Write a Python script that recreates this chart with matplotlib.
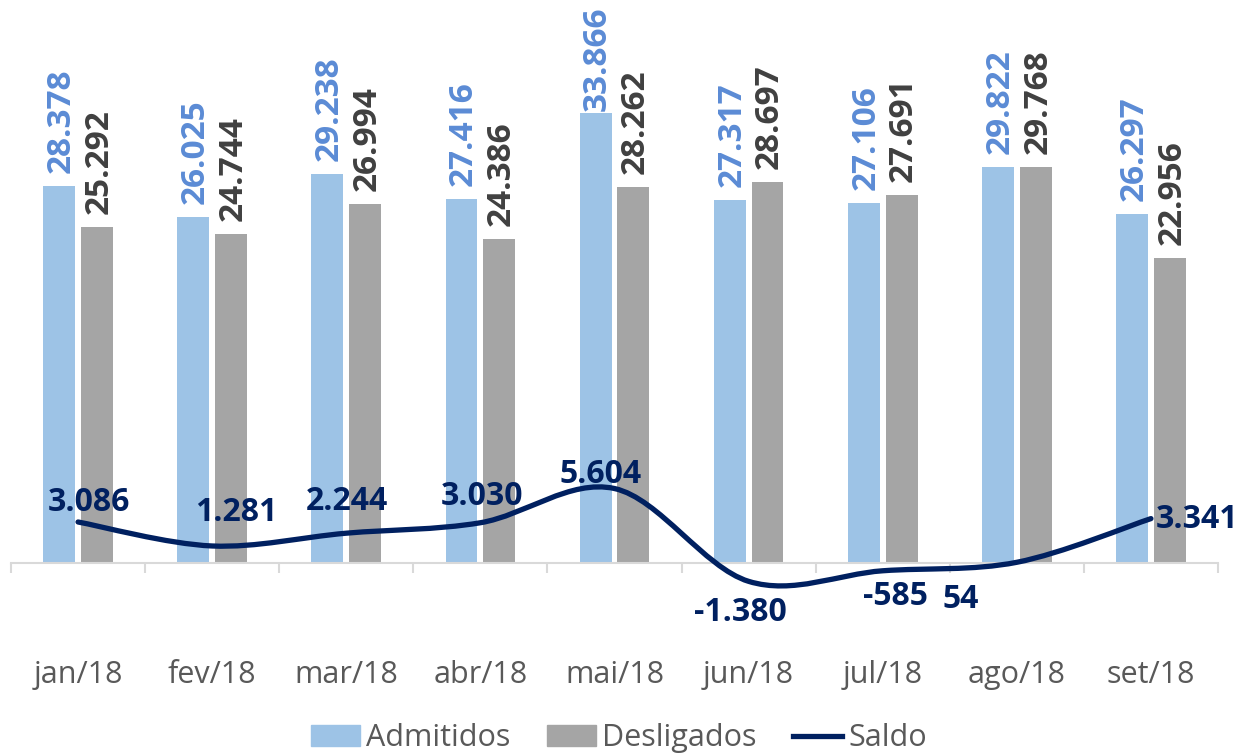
import numpy as np
import matplotlib
matplotlib.use("Agg")
import matplotlib.pyplot as plt
from matplotlib.path import Path
from matplotlib.patches import PathPatch
from matplotlib.lines import Line2D
from matplotlib.patches import Patch

# dados
meses = ["jan/18", "fev/18", "mar/18", "abr/18", "mai/18",
         "jun/18", "jul/18", "ago/18", "set/18"]
admitidos = [28378, 26025, 29238, 27416, 33866, 27317, 27106, 29822, 26297]
desligados = [25292, 24744, 26994, 24386, 28262, 28697, 27691, 29768, 22956]
saldo = [3086, 1281, 2244, 3030, 5604, -1380, -585, 54, 3341]

# deslocamento (px) dos rotulos do saldo
saldo_off = [(11, 19), (24, 33), (1, 32), (2, 26), (-14, 14),
             (-8, -31), (13, -26), (-56, -37), (46, -1)]

COR_ADM = "#9DC3E6"
COR_DES = "#A5A5A5"
COR_SAL = "#002060"
COR_TXT = "#595959"


def fmt(v):
    return f"{v:,}".replace(",", ".")


plt.rcParams["font.family"] = ["Open Sans", "DejaVu Sans"]

W, H = 1245, 755
fig = plt.figure(figsize=(W / 100, H / 100), dpi=100)
# eixo posicionado em pixels
ax = fig.add_axes([11 / W, (H - 640) / H, 1207 / W, 640 / H])

x = np.arange(len(meses))
bw = 0.238
off = 0.141
ax.bar(x - off, admitidos, bw, color=COR_ADM, zorder=2)
ax.bar(x + off, desligados, bw, color=COR_DES, zorder=2)

for i in range(len(meses)):
    # o rotulo de mai/18 fica colado na barra (sem espaco no topo)
    gap = 2 if admitidos[i] == max(admitidos) else 13
    ax.annotate(fmt(admitidos[i]), (x[i] - off, admitidos[i]),
                xytext=(2, gap), textcoords="offset pixels",
                rotation=90, ha="center", va="bottom",
                fontsize=24, fontweight="bold", color="#5B8BD5")
    ax.annotate(fmt(desligados[i]), (x[i] + off, desligados[i]),
                xytext=(2, 13), textcoords="offset pixels",
                rotation=90, ha="center", va="bottom",
                fontsize=24, fontweight="bold", color="#404040")

# linha suavizada (bezier tipo Excel)
pts = np.column_stack([x, saldo]).astype(float)
verts = [pts[0]]
codes = [Path.MOVETO]
n = len(pts)
for i in range(n - 1):
    p0 = pts[i - 1] if i > 0 else pts[i]
    p1 = pts[i]
    p2 = pts[i + 1]
    p3 = pts[i + 2] if i + 2 < n else pts[i + 1]
    c1 = p1 + (p2 - p0) / 6
    c2 = p2 - (p3 - p1) / 6
    verts += [c1, c2, p2]
    codes += [Path.CURVE4] * 3
ax.add_patch(PathPatch(Path(verts, codes), fill=False, edgecolor=COR_SAL,
                       lw=3.8, capstyle="round", zorder=3))

for i in range(len(meses)):
    ax.annotate(fmt(saldo[i]), (x[i], saldo[i]), xytext=saldo_off[i],
                textcoords="offset pixels", ha="center", va="center",
                fontsize=23, fontweight="bold", color=COR_SAL, zorder=4)

ax.set_xlim(-0.5, len(meses) - 0.5)
ax.set_ylim(-5794, 42366)

for s in ["top", "left", "right"]:
    ax.spines[s].set_visible(False)
ax.spines["bottom"].set_position(("data", 0))
ax.spines["bottom"].set_color("#D9D9D9")
ax.spines["bottom"].set_linewidth(1.5)
ax.set_yticks([])
ax.set_xticks(x)
ax.set_xticklabels(meses, fontsize=22, color=COR_TXT)
ax.tick_params(axis="x", which="major", length=0, pad=70)
ax.set_xticks(np.arange(-0.5, len(meses)), minor=True)
ax.tick_params(axis="x", which="minor", length=7.5, width=1.5,
               color="#D9D9D9", direction="out")

handles = [Patch(color=COR_ADM), Patch(color=COR_DES),
           Line2D([], [], color=COR_SAL, lw=3.8)]
fig.legend(handles, ["Admitidos", "Desligados", "Saldo"], loc="center",
           bbox_to_anchor=(0.497, 0.022), ncol=3, frameon=False,
           fontsize=22, labelcolor=COR_TXT, handlelength=1.6,
           handleheight=0.65, handletextpad=0.2, columnspacing=1.2)

fig.savefig("out.png", dpi=100)
